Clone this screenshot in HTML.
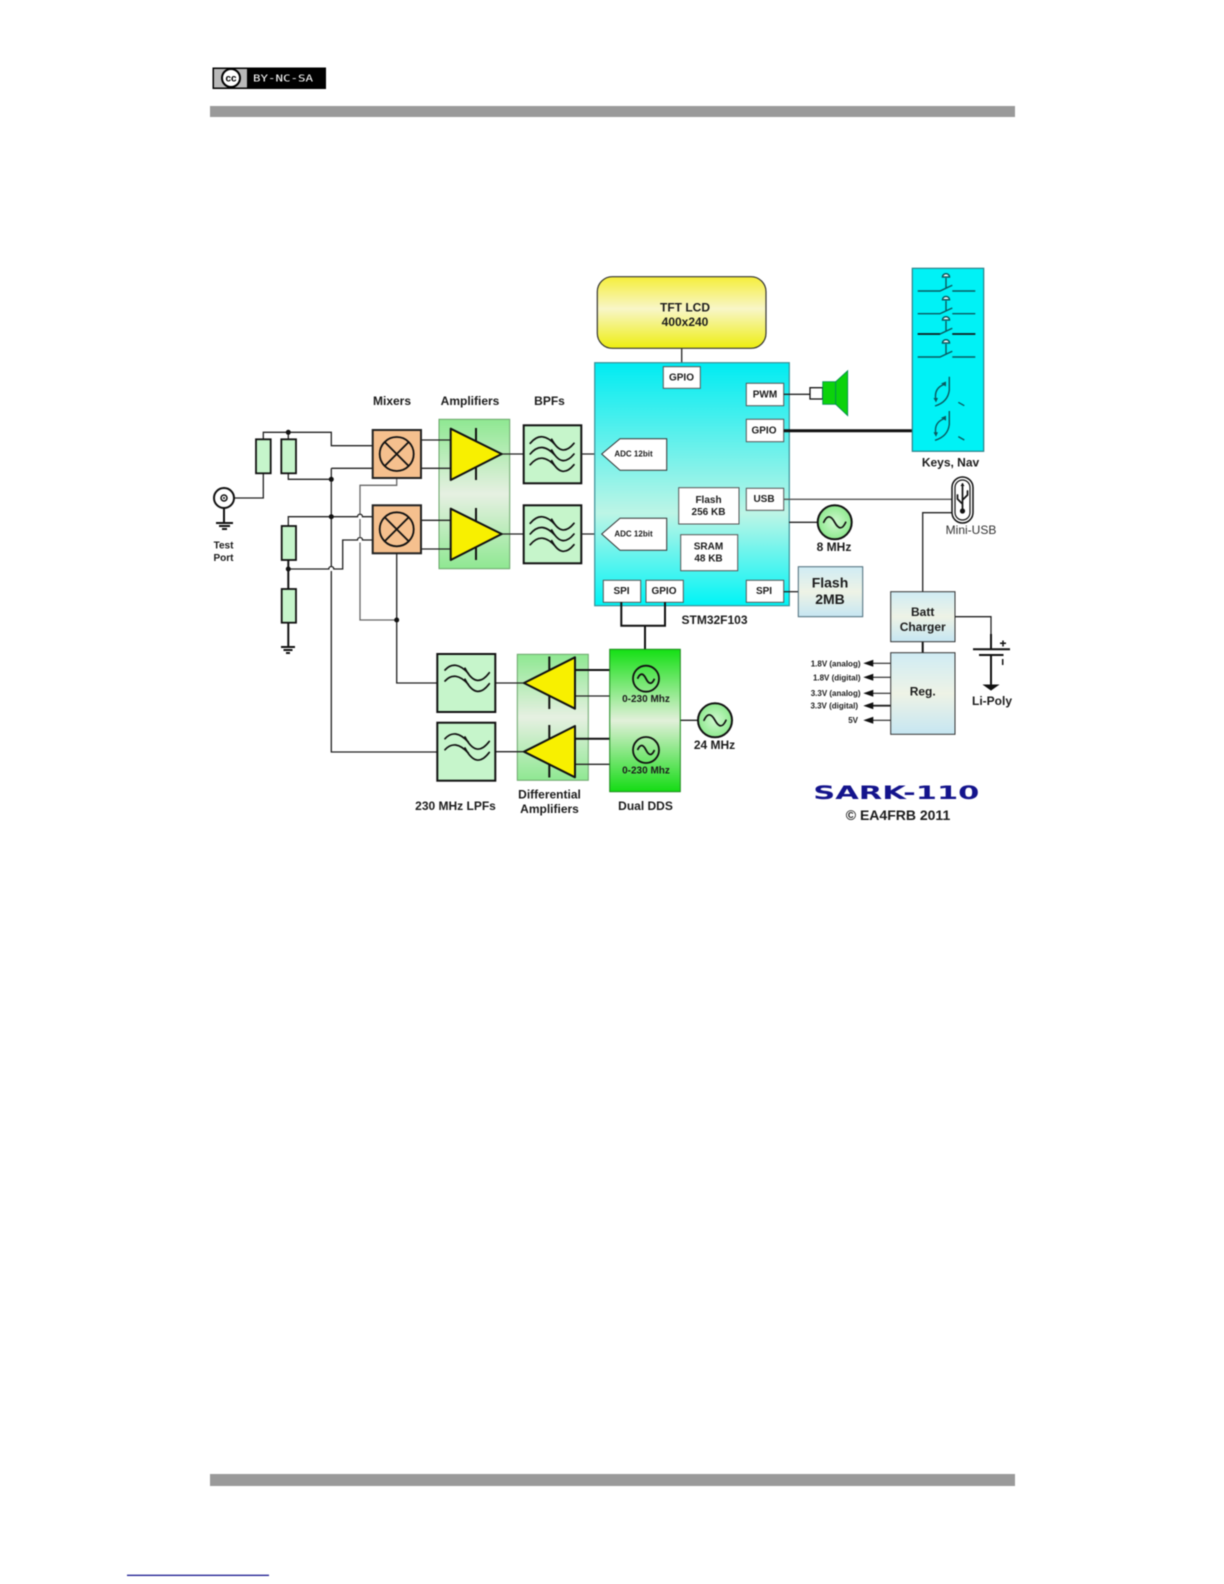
<!DOCTYPE html>
<html><head><meta charset="utf-8"><style>
html,body{margin:0;padding:0;background:#fff;width:1224px;height:1584px;overflow:hidden}
svg{display:block;filter:blur(.45px)}
text{font-family:"Liberation Sans",sans-serif;font-weight:bold;fill:#1c1c1c;text-anchor:middle}
.w{fill:none;stroke:#222;stroke-width:1.3}
.t{fill:none;stroke:#111;stroke-width:2}
.f{fill:#c6f5cb;stroke:#111;stroke-width:2}
.r{fill:#c6f5cb;stroke:#111;stroke-width:1.8}
.b{fill:#fff;stroke:#555;stroke-width:1}
.c{fill:none;stroke:#111;stroke-width:1.7;stroke-linecap:round}
.k{fill:none;stroke:#0a5a60;stroke-width:1.4}
.s10{font-size:10px}.s12{font-size:12px}.s8{font-size:8px;text-anchor:end}
</style></head><body>
<svg width="1224" height="1584" viewBox="0 0 1224 1584" xmlns="http://www.w3.org/2000/svg">
<defs>
<linearGradient id="cy" x1="0" y1="0" x2="0" y2="1"><stop offset="0" stop-color="#00ecf2"/><stop offset=".62" stop-color="#bdf5e6"/><stop offset="1" stop-color="#00f4f6"/></linearGradient>
<linearGradient id="ye" x1="0" y1="0" x2="0" y2="1"><stop offset="0" stop-color="#f6ee3a"/><stop offset=".45" stop-color="#f8f6c8"/><stop offset="1" stop-color="#eeee10"/></linearGradient>
<linearGradient id="am" x1="0" y1="0" x2="0" y2="1"><stop offset="0" stop-color="#8fe892"/><stop offset=".5" stop-color="#e6f0e2"/><stop offset="1" stop-color="#8fe892"/></linearGradient>
<linearGradient id="dd" x1="0" y1="0" x2="0" y2="1"><stop offset="0" stop-color="#14e014"/><stop offset=".5" stop-color="#e2f0da"/><stop offset="1" stop-color="#14dc14"/></linearGradient>
<linearGradient id="bl" x1="0" y1="0" x2="0" y2="1"><stop offset="0" stop-color="#d0ecf4"/><stop offset=".5" stop-color="#eef3e6"/><stop offset="1" stop-color="#c6e6f2"/></linearGradient>
<radialGradient id="og" cx=".5" cy=".5" r=".55"><stop offset="0" stop-color="#d0f8d0"/><stop offset="1" stop-color="#88e888"/></radialGradient>
<g id="bpf"><rect class="f" width="57.6" height="58"/>
<path class="c" d="M6.5 18Q18 4 32 20M28 14Q38 33 50.3 18M6.5 28.7Q18 14.700 32 30.700M28 24.700Q38 43.700 50.3 28.700M6.5 39.400Q18 25.400 32 41.400M28 35.400Q38 54.400 50.3 39.400"/></g>
<g id="lpf"><rect class="f" width="58" height="58"/>
<path class="c" d="M7.700 16Q17.700 5 31 19.300M27.700 14.300Q39 36 52 18.700M7.700 27Q17.700 16 31 30.300M27.700 25.300Q39 47 52 29.700"/></g>
<g id="osc"><circle r="17" fill="url(#og)" stroke="#111" stroke-width="2"/><path class="c" d="M-11 0q5 -11 11 0t11 0"/></g>
<g id="sw"><path class="k" d="M0 0H22.300L34.600 -5.700M34.600 0H57.600M28.300 -3V-13"/><path d="M24.800 -14a3.500 3.200 0 0 1 7 0z" fill="#fff" stroke="#0a5a60" stroke-width="1.500"/></g>
<g id="enc"><path class="k" stroke-width="1.600" d="M949.300 376.700V390Q948 402 935 406"/><path class="k" stroke-width="1.600" d="M944.300 384.300Q934 388 935.700 399"/><path d="M933.500 398h4.500l-2 4.500zM941 383.500l5 -2v5z" fill="#0a5a60"/><path class="k" d="M958.300 402.300l6 3.400"/></g>
</defs>

<!-- header/footer -->
<rect x="210" y="106" width="805" height="11" fill="#9a9a9a"/>
<rect x="210" y="1474" width="805" height="12" fill="#9a9a9a"/>
<rect x="127" y="1574.700" width="142" height="1.300" fill="#1a1a90"/>
<rect x="212.500" y="67.500" width="113.500" height="21.500" fill="#000"/>
<rect x="214" y="69" width="33" height="18.500" fill="#b9b9b9"/>
<circle cx="231" cy="78" r="9" fill="#fff" stroke="#000" stroke-width="2"/>
<text x="231" y="81.500" style="font-size:10px;fill:#000">cc</text>
<text x="283" y="81.500" textLength="60" lengthAdjust="spacingAndGlyphs" style="font-size:10px;fill:#fff;font-weight:normal;font-family:'DejaVu Sans Mono',monospace">BY-NC-SA</text>

<!-- amp backgrounds -->
<rect x="439" y="419.300" width="70.700" height="149.400" fill="url(#am)" stroke="#6aa56a"/>
<rect x="517.300" y="654.300" width="71" height="126" fill="url(#am)" stroke="#6aa56a"/>

<!-- wires left -->
<path class="w" d="M263.300 473V498H234M263.300 439V432.300H331.300V445.700H372.700M288.300 432.300V439M288.300 473V479.300H331.300M331.300 468.300H372.700"/>
<path class="w" stroke-width="1.500" d="M331.300 468.300V566.500M331.300 571V752H437.300"/>
<path class="w" d="M288.300 526V516.700H357.500a2.500 2.500 0 0 1 5 0H372.700"/>
<path class="w" d="M288.300 569H328.800a2.500 2.500 0 0 1 5 0H342.700V540H357.500a2.500 2.500 0 0 1 5 0H372.700"/>
<path class="w" style="stroke:#666" d="M396.700 478V485.300H360V514M360 519V537.500M360 542.500V620H396.700"/>
<path class="w" stroke-width="1.500" d="M396.700 553.300V683H437.300"/>
<path class="t" d="M288.300 560V589M288.300 622.700V646"/>
<path class="t" d="M224 508V522"/>
<g fill="#111"><circle cx="288.300" cy="432.300" r="2.500"/><circle cx="331.300" cy="479.300" r="2.500"/><circle cx="331.300" cy="516.700" r="2.500"/><circle cx="288.300" cy="569" r="2.500"/><circle cx="396.700" cy="620" r="2.500"/></g>
<path class="t" d="M216 523H233M219 526H230M222 529H227" stroke-width="1.600"/>
<path class="t" d="M281 647H295M283.500 650H292.500M286 653H290" stroke-width="2"/>
<circle cx="224" cy="498" r="10" fill="#fff" stroke="#111" stroke-width="2"/><circle cx="224" cy="498" r="3" fill="none" stroke="#111" stroke-width="1.500"/><circle cx="224" cy="498" r="1" fill="#111"/>
<rect class="r" x="256" y="439.300" width="14.700" height="34"/>
<rect class="r" x="281.300" y="439.300" width="14.700" height="34"/>
<rect class="r" x="281.700" y="526" width="14.300" height="34"/>
<rect class="r" x="281.700" y="589" width="14.300" height="33.700"/>
<text class="s10" x="223.500" y="548.500">Test</text><text class="s10" x="223.500" y="561">Port</text>

<!-- mixers -->
<rect x="372.700" y="430" width="48.300" height="48" fill="#f5c08e" stroke="#222" stroke-width="2"/>
<rect x="372.700" y="505.300" width="48.300" height="48" fill="#f5c08e" stroke="#222" stroke-width="2"/>
<g fill="none" stroke="#111" stroke-width="1.800">
<circle cx="396.700" cy="454" r="17"/><path d="M384.700 442l24 24M408.700 442l-24 24"/>
<circle cx="396.700" cy="529.300" r="17"/><path d="M384.700 517.300l24 24M408.700 517.300l-24 24"/></g>
<text class="s12" x="392" y="405">Mixers</text><text class="s12" x="470" y="405">Amplifiers</text><text class="s12" x="549.500" y="405">BPFs</text>

<!-- amps -->
<path class="w" stroke-width="1.500" d="M421 440H451M421 468.300H451M421 520.300H451M421 549H451M501 454H524M501 534H524"/>
<path class="t" d="M476 428V480M476 508V560" stroke-width="1.500"/>
<path d="M450.700 428.700V480L501.700 454Z M450.700 508.700V560L501.700 534Z" fill="#f8f000" stroke="#111" stroke-width="2" stroke-linejoin="round"/>
<use href="#bpf" x="523.700" y="425.300"/><use href="#bpf" x="523.700" y="505.300"/>

<!-- LCD + chip -->
<path class="w" d="M681.700 348V367"/>
<rect x="597.300" y="276.700" width="168.700" height="71.600" rx="15" fill="url(#ye)" stroke="#333" stroke-width="1.200"/>
<text class="s12" x="685" y="311.500">TFT LCD</text><text class="s12" x="685" y="326">400x240</text>
<path class="w" d="M581 454H602M581 534H602"/>
<rect x="594.700" y="362.700" width="194.600" height="243" fill="url(#cy)" stroke="#3a8f96" stroke-width="1.200"/>
<rect class="b" x="663.300" y="366.700" width="37" height="21.600"/>
<rect class="b" x="746.300" y="383.300" width="37.400" height="22.400"/>
<rect class="b" x="746.300" y="419.300" width="37.400" height="22.400"/>
<rect class="b" x="746.300" y="488.300" width="37.400" height="22"/>
<rect class="b" x="746.300" y="580.300" width="37.400" height="22"/>
<rect class="b" x="603.300" y="580.300" width="37.400" height="22"/>
<rect class="b" x="646" y="580.300" width="37.300" height="22"/>
<rect class="b" x="678.700" y="487.700" width="60.300" height="36.300"/>
<rect class="b" x="680.700" y="534.700" width="57" height="36"/>
<path d="M601.700 454L620 438.700H666.700V470.300H620Z M601.700 534L620 518.300H666.700V550.300H620Z" fill="#fff" stroke="#333" stroke-width="1"/>
<text class="s10" x="681.500" y="380.500">GPIO</text><text class="s10" x="765" y="397.500">PWM</text><text class="s10" x="764" y="433.500">GPIO</text><text class="s10" x="764" y="502">USB</text><text class="s10" x="764" y="594">SPI</text><text class="s10" x="621.500" y="594">SPI</text><text class="s10" x="664" y="594">GPIO</text>
<text class="s10" x="708.500" y="503">Flash</text><text class="s10" x="708.500" y="515">256 KB</text><text class="s10" x="708.500" y="549.500">SRAM</text><text class="s10" x="708.500" y="561.500">48 KB</text>
<text x="633.500" y="456.500" style="font-size:8px">ADC 12bit</text><text x="633.500" y="536.500" style="font-size:8px">ADC 12bit</text>
<text class="s12" x="714.500" y="624">STM32F103</text>

<!-- speaker -->
<path class="w" d="M783.700 394.300H810"/>
<rect x="810" y="387.700" width="12.700" height="11.300" fill="#fff" stroke="#111" stroke-width="1.300"/>
<rect x="822.700" y="381.700" width="13" height="22.600" fill="#0cd20c" stroke="#085" stroke-width=".8"/>
<path d="M835.700 381.700L847.700 370.700V415.700L835.700 404.300Z" fill="#0cd20c" stroke="#085" stroke-width=".8"/>

<!-- keys -->
<path d="M783.700 430.700H912.300" stroke="#111" stroke-width="3"/>
<rect x="912.300" y="268.300" width="71.400" height="183" fill="#00f2f6" stroke="#2a8088" stroke-width="1.200"/>
<use href="#sw" x="917.700" y="291"/><use href="#sw" x="917.700" y="313.700"/><use href="#sw" x="917.700" y="334"/><use href="#sw" x="917.700" y="357"/>
<path d="M917.700 334H940M952.300 334H975.300" stroke="#111" stroke-width="1.600"/>
<use href="#enc"/><use href="#enc" y="34.300"/>
<text class="s12" x="950.500" y="466.500">Keys, Nav</text>

<!-- USB -->
<path class="w" style="stroke:#555" d="M783.700 499.300H952"/>
<path class="w" stroke-width="1.500" d="M952 512.700H922.700V591.700"/>
<rect x="952" y="477" width="21" height="46" rx="10.500" fill="#fff" stroke="#111" stroke-width="1.500"/>
<rect x="955" y="480" width="15" height="40" rx="7.500" fill="#fff" stroke="#111" stroke-width="1.200"/>
<path class="c" stroke-width="1.300" d="M962.500 484V509M962.500 504L957.500 499V495M962.500 500L967.500 495V491"/><circle cx="962.500" cy="511" r="2.600" fill="#111"/>
<path d="M962.500 483l-2 3h4z" fill="#111"/>
<text x="971" y="534" style="font-size:12px;font-weight:normal;fill:#333">Mini-USB</text>

<!-- 8 MHz, flash -->
<path class="w" d="M789 522.300H818"/>
<use href="#osc" x="834.700" y="522.300"/>
<text class="s12" x="834" y="551">8 MHz</text>
<path class="w" d="M783.700 591.700H798.300"/>
<rect x="798.300" y="566.700" width="64.400" height="50" fill="url(#bl)" stroke="#4a6a78" stroke-width="1"/>
<text x="830" y="587.500" style="font-size:14px">Flash</text><text x="830" y="604" style="font-size:14px">2MB</text>

<!-- bus -->
<path class="t" d="M621.300 602V625.700H665V602M645 625.700V649.300"/>

<!-- DDS -->
<path class="t" stroke-width="1.600" d="M575 670H610M575 738.700H610"/>
<path class="w" d="M575 696H610M575 764.300H610M495 683H524M495 751.700H524M680 720.300H698"/>
<rect x="609.700" y="649.300" width="70.600" height="142.400" fill="url(#dd)" stroke="#1a8a1a"/>
<use href="#lpf" x="437.300" y="654"/><use href="#lpf" x="437.300" y="722.700"/>
<path class="t" d="M549.300 656.500V709M549.300 725V777.500" stroke-width="1.500"/>
<path d="M524 683L575 657.300V708.700Z M524 751.700L575 726V777.300Z" fill="#f8f000" stroke="#111" stroke-width="2" stroke-linejoin="round"/>
<g fill="none" stroke="#111" stroke-width="1.800"><circle cx="646" cy="678.700" r="13"/><circle cx="646" cy="750" r="13"/><path d="M637.500 678.700q4 -9 8.500 0t8.500 0M637.500 750q4 -9 8.500 0t8.500 0"/></g>
<text class="s10" x="646" y="702">0-230 Mhz</text><text class="s10" x="646" y="773.500">0-230 Mhz</text>
<use href="#osc" x="715" y="720.300"/>
<text class="s12" x="714.500" y="749">24 MHz</text>
<text class="s12" x="455.500" y="810">230 MHz LPFs</text><text class="s12" x="549.500" y="798.500">Differential</text><text class="s12" x="549.500" y="813">Amplifiers</text><text class="s12" x="645.500" y="810">Dual DDS</text>

<!-- power -->
<path class="t" stroke-width="1.500" d="M922.700 641.700V652.700"/>
<rect x="890.700" y="591.700" width="64.300" height="50" fill="url(#bl)" stroke="#333" stroke-width="1"/>
<rect x="890.700" y="652.700" width="64.300" height="81.600" fill="url(#bl)" stroke="#333" stroke-width="1"/>
<text class="s12" x="922.700" y="616">Batt</text><text class="s12" x="922.700" y="631">Charger</text><text class="s12" x="922.700" y="695.500">Reg.</text>
<path class="w" d="M955 616.700H991V634"/>
<path class="t" stroke-width="1.500" d="M991 634V649M973 649.300H1010M979 655H1003.500M991 655V686"/>
<path d="M984 685H998L991 690Z" fill="#111" stroke="#111" stroke-width="1"/>
<path d="M1000 643.300h6M1003 640.500v6M1002.700 659v6" stroke="#111" stroke-width="1.500" fill="none"/>
<text class="s12" x="992" y="705">Li-Poly</text>
<g stroke="#222" stroke-width="1.200"><path d="M873 663.300H890.700M873 677.300H890.700M873 693.300H890.700M873 720.300H890.700"/><path stroke-width="1.800" d="M873 705.700H890.700"/></g>
<path d="M863.300 663.300l10 -3.500v7zM863.300 677.300l10 -3.500v7zM863.300 693.300l10 -3.500v7zM863.300 705.700l10 -3.500v7zM863.300 720.300l10 -3.500v7z" fill="#111"/>
<text class="s8" x="860.500" y="666.300">1.8V (analog)</text><text class="s8" x="860.500" y="680.300">1.8V (digital)</text><text class="s8" x="860.500" y="696">3.3V (analog)</text><text class="s8" x="858" y="708.500">3.3V (digital)</text><text class="s8" x="858" y="723">5V</text>

<!-- logo -->
<text x="896.300" y="799" textLength="166" lengthAdjust="spacingAndGlyphs" style="font-size:19px;fill:#14148c;font-family:'DejaVu Sans',sans-serif">SARK-110</text>
<text x="898" y="820" style="font-size:14px">© EA4FRB 2011</text>
</svg>
</body></html>
